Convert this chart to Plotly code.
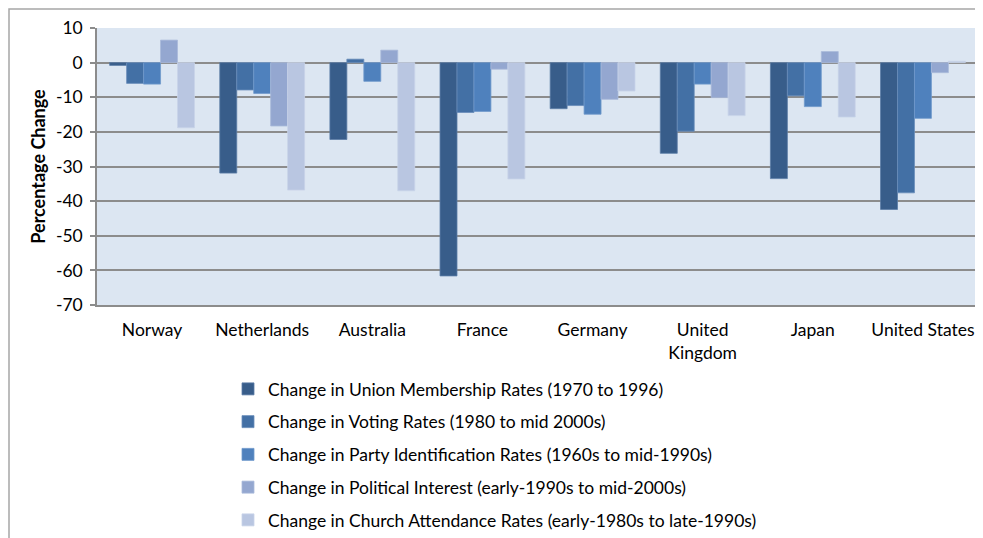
import plotly.graph_objects as go

countries = ["Norway", "Netherlands", "Australia", "France", "Germany",
             "United<br>Kingdom", "Japan", "United States"]

series_names = [
    "Change in Union Membership Rates (1970 to 1996)",
    "Change in Voting Rates (1980 to mid 2000s)",
    "Change in Party Identification Rates (1960s to mid-1990s)",
    "Change in Political Interest (early-1990s to mid-2000s)",
    "Change in Church Attendance Rates (early-1980s to late-1990s)",
]

union_membership = [-0.8, -31.9, -22.2, -61.6, -13.3, -26.2, -33.5, -42.4]
voting_rates = [-6.0, -7.9, 1.0, -14.4, -12.4, -19.8, -9.6, -37.6]
party_identification = [-6.2, -8.9, -5.4, -14.1, -14.9, -6.2, -12.7, -16.1]
political_interest = [6.5, -18.3, 3.6, -1.9, -10.6, -10.1, 3.2, -2.9]
church_attendance = [-18.8, -36.8, -37.0, -33.6, -8.2, -15.3, -15.7, 0.4]

y_ticks = [10, 0, -10, -20, -30, -40, -50, -60, -70]
y_tick_labels = ["10", "0", "-10", "-20", "-30", "-40", "-50", "-60", "-70"]

colors = ["#385D8A", "#4370A5", "#4F81BD", "#94A7D0", "#B9C6E1"]
outline = ["#5B7CA6", "#6A8DBA", "#7099CC", "#A9BADB", "#C8D3E8"]

all_values = [union_membership, voting_rates, party_identification,
              political_interest, church_attendance]

FONT = "Lato"
FS = 17.5

fig = go.Figure()
for i, (name, vals) in enumerate(zip(series_names, all_values)):
    fig.add_trace(go.Bar(
        x=countries, y=vals, name=name,
        marker=dict(color=colors[i], line=dict(color=outline[i], width=0.8)),
        legendgroup=f"g{i}",
    ))

# page is offset by 8px body margin; coordinates below are in page pixels
OFF = 8
W, H = 983 - OFF, 538 - OFF
PL, PR, PT, PB = 97, 978, 28, 305   # plot area in page pixels
L = PL - OFF
R = W - (PR - OFF)
T = PT - OFF
B = H - (PB - OFF)
pw = W - L - R
ph = H - T - B

def px_x(p):
    return (p - OFF - L) / pw

def px_y(p):
    return (H - B - (p - OFF)) / ph

fig.update_layout(
    width=W, height=H,
    margin=dict(l=L, r=R, t=T, b=B, autoexpand=False),
    paper_bgcolor="white",
    plot_bgcolor="#DCE6F2",
    barmode="group",
    bargap=0.23,
    bargroupgap=0,
    font=dict(family=FONT, size=FS, color="#000000"),
    showlegend=True,
    legend=dict(
        orientation="v",
        x=px_x(228), y=px_y(371), xanchor="left", yanchor="top",
        font=dict(family=FONT, size=FS, color="#000000"),
        itemwidth=30,
        tracegroupgap=7,
        bgcolor="rgba(0,0,0,0)",
        traceorder="grouped",
    ),
    xaxis=dict(
        showgrid=False,
        ticks="outside", ticklen=8, tickcolor="rgba(0,0,0,0)",
        tickfont=dict(family=FONT, size=FS, color="#000000"),
        showline=True, linecolor="#8C8C8C", linewidth=1.5,
        zeroline=False,
    ),
    yaxis=dict(
        range=[-70, 10],
        tickvals=y_ticks, ticktext=y_tick_labels,
        ticks="outside", ticklen=5, tickcolor="#8C8C8C", tickwidth=1.5,
        ticklabelstandoff=4,
        tickfont=dict(family=FONT, size=FS, color="#000000"),
        showgrid=True, gridcolor="#8C8C8C", gridwidth=1.5,
        zeroline=True, zerolinecolor="#8C8C8C", zerolinewidth=2,
        showline=True, linecolor="#8C8C8C", linewidth=1.5,
        title=dict(text="<b>Percentage Change</b>",
                   font=dict(family=FONT, size=18, color="#000000"),
                   standoff=6),
    ),
    shapes=[
        dict(type="rect", xref="paper", yref="paper",
             x0=px_x(9), x1=px_x(1000), y0=px_y(560), y1=px_y(9),
             line=dict(color="#A6A6A6", width=1.5), fillcolor="rgba(0,0,0,0)",
             layer="below"),
    ],
)

fig.write_html("out.html")
